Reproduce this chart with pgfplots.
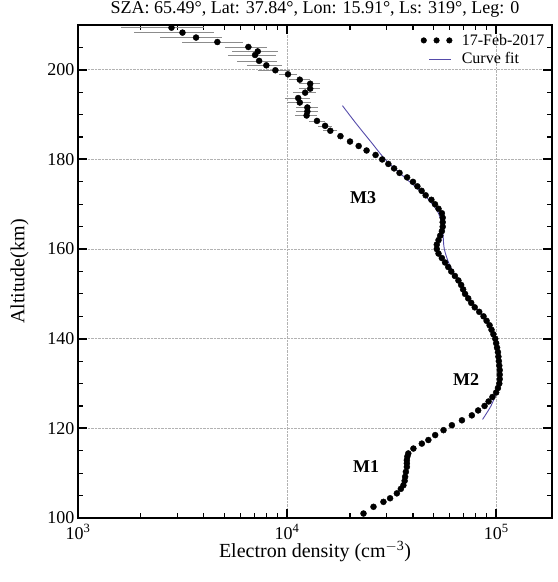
\documentclass[border=0pt]{standalone}
\usepackage{fontspec}
\setmainfont{Liberation Serif}
\usepackage{pgfplots}
\usepackage{pgfplotstable}
\pgfplotsset{compat=1.18}
\definecolor{fitcol}{RGB}{85,75,170}

\pgfplotstableread{
alt n
101.0 23200
102.5 25900
103.6 28900
104.4 31100
105.5 33500
106.5 35000
107.3 36000
108.3 36500
109.2 36700
110.3 37000
111.4 37400
112.2 37400
112.9 37400
113.7 37600
114.4 38000
115.5 40200
116.6 44100
117.4 47400
118.5 51100
119.6 56000
120.7 61400
121.8 68600
122.9 76500
124.0 82000
125.0 88000
126.0 92000
127.0 96000
128.0 100000
129.0 102000
130.0 103500
131.0 104000
132.0 104000
133.0 104000
134.0 103500
135.0 103000
136.0 102500
137.0 102000
138.0 101000
139.0 100000
140.0 99000
141.0 97000
142.0 95000
143.0 93000
144.0 90000
145.0 87000
146.0 83000
147.0 79000
148.0 76000
149.0 73500
150.0 71000
151.0 69500
152.0 68000
153.0 66000
154.0 63500
155.0 61000
156.0 59000
157.0 57000
158.0 55000
159.0 53000
160.0 52000
161.0 52000
162.0 53000
163.0 54000
164.0 55000
165.0 55500
166.0 55500
167.0 55500
168.0 55000
169.0 53000
170.0 51000
171.0 49000
172.0 46000
173.0 44000
174.0 42000
175.0 40000
176.0 37500
177.0 34500
178.0 32500
179.0 30500
180.0 28500
181.0 26500
182.0 24000
183.0 22000
184.0 20000
185.2 18000
186.4 16100
187.5 15200
188.6 13900
189.8 12400
190.7 12500
191.6 12500
192.7 11500
193.7 11300
194.9 12200
195.8 12900
196.9 12900
197.8 11500
199.0 10100
199.9 8790
201.0 7960
202.0 7350
203.3 7030
204.1 7240
205.1 6530
206.2 4640
207.2 3670
208.3 3160
209.4 2800
}\datatab

\pgfplotstableread{
alt n err
186.4 16100 1200
187.5 15200 1200
188.6 13900 1200
189.8 12400 1500
190.7 12500 1500
191.6 12500 1500
192.7 11500 1500
193.7 11300 1500
194.9 12200 1500
195.8 12900 1500
196.9 12900 1500
197.8 11500 1300
199.0 10100 1000
199.9 8790 1500
201.0 7960 1500
202.0 7350 1600
203.3 7030 1800
204.1 7240 1800
205.1 6530 1500
206.2 4640 1500
207.2 3670 1200
208.3 3160 1300
209.4 2800 1200
}\errtab

\pgfplotstableread{
alt n
192 18400
188 21400
184 25100
180 29500
176 36500
172 45500
168 53000
164 55500
160 56500
156 60500
152 68500
148 77000
144 89100
140 97700
136 102300
132 103500
128 100000
125 94400
122 86100
}\fittab

\begin{document}
\begin{tikzpicture}
\begin{axis}[
  scale only axis, width=474pt, height=493pt,
  xmode=log,
  xmin=1000, xmax=185000, ymin=100, ymax=210,
  xtick={1000,10000,100000},
  xticklabels={10\textsuperscript{3},10\textsuperscript{4},10\textsuperscript{5}},
  minor xtick={2000,3000,4000,5000,6000,7000,8000,9000,20000,30000,40000,50000,60000,70000,80000,90000},
  ytick={100,120,...,200},
  minor ytick={105,110,...,205},
  /pgf/number format/assume math mode=true,
  tick align=inside,
  major tick length=9pt, minor tick length=5pt,
  major tick style={black, line width=2pt},
  minor tick style={black, line width=1.1pt},
  axis line style={black, line width=1.6pt},
  grid=major,
  major grid style={densely dotted, black!30, line width=0.9pt},
  tick label style={font=\fontsize{18}{20}\selectfont},
  xticklabel style={yshift=-3pt},
  title={SZA: 65.49°, Lat: 37.84°, Lon: 15.91°, Ls: 319°, Leg: 0},
  title style={font=\fontsize{18}{20}\selectfont, at={(0.5,1)}, anchor=base, yshift=5pt},
  xlabel={Electron density (cm\textsuperscript{$-$3})},
  ylabel={Altitude(km)},
  label style={font=\fontsize{20}{22}\selectfont},
  xlabel style={yshift=5pt},
  ylabel style={yshift=12pt},
  legend style={at={(0.995,0.99)}, anchor=north east, draw=none, fill=none,
    font=\fontsize{16}{18}\selectfont, row sep=2pt},
  legend cell align=left,
  clip=false,
]
\addplot[forget plot, draw=none, mark=none,
  error bars/.cd, x dir=both, x explicit, error mark=none,
  error bar style={black!45, line width=0.6pt}]
  table[x=n, y=alt, x error=err] {\errtab};
\addplot[only marks, mark=*, mark size=3pt, black,
  legend image code/.code={
    \fill[black] (0cm,0cm) circle (2.8pt);
    \fill[black] (0.45cm,0cm) circle (2.8pt);
    \fill[black] (0.9cm,0cm) circle (2.8pt);
    \path (1.25cm,0cm);}]
  table[x=n, y=alt] {\datatab};
\addlegendentry{17-Feb-2017}
\addplot[fitcol, line width=0.9pt, smooth, mark=none,
  legend image code/.code={\draw[fitcol, line width=0.9pt] (0.2cm,0cm) -- (0.95cm,0cm);
    \path (0cm,0cm) (1.25cm,0cm);}]
  table[x=n, y=alt] {\fittab};
\addlegendentry{Curve fit}
\node[font=\bfseries\fontsize{18}{20}\selectfont] at (axis cs:23100,171.5) {M3};
\node[font=\bfseries\fontsize{18}{20}\selectfont] at (axis cs:71800,131) {M2};
\node[font=\bfseries\fontsize{18}{20}\selectfont] at (axis cs:23900,111.4) {M1};
\coordinate (sw) at (rel axis cs:0,0);
\coordinate (ne) at (rel axis cs:1,1);
\end{axis}
\pgfresetboundingbox
\useasboundingbox ([shift={(-78pt,-64pt)}]sw) rectangle ([shift={(5pt,25pt)}]ne);
\end{tikzpicture}
\end{document}
